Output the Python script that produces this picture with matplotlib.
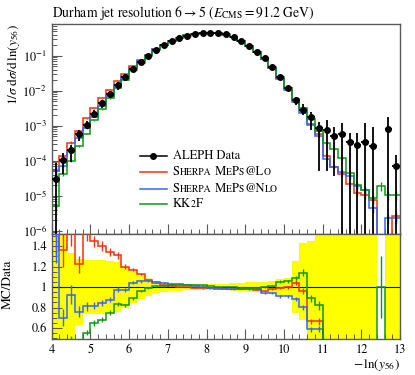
import numpy as np
import matplotlib
matplotlib.use("Agg")
import matplotlib.pyplot as plt
from matplotlib.ticker import MultipleLocator, FixedLocator, LogLocator, NullFormatter, FuncFormatter
from matplotlib.offsetbox import TextArea, HPacker, AnchoredOffsetbox

plt.rcParams["font.family"] = "STIXGeneral"
plt.rcParams["mathtext.fontset"] = "stix"

# bin edges of -ln(y56), 0.2 wide
edges = np.round(np.arange(4.0, 13.01, 0.2), 1)

# ALEPH data (0 = no entry)
aleph = np.array([
    3.0e-5, 1.03e-4, 2.1e-4, 5.8e-4, 1.07e-3, 2.2e-3, 4.4e-3, 8.1e-3, 1.42e-2, 2.5e-2,
    4.3e-2, 6.6e-2, 0.100, 0.146, 0.202, 0.263, 0.320, 0.380, 0.425, 0.454,
    0.454, 0.445, 0.410, 0.350, 0.268, 0.193, 0.128, 0.084, 0.047, 0.024,
    1.17e-2, 5.4e-3, 2.9e-3, 1.73e-3, 8.5e-4, 7.5e-4, 5.2e-4, 5.7e-4, 3.5e-4, 2.9e-4,
    3.5e-4, 2.6e-4, 0.0, 8.1e-4, 7.2e-5])
# relative errors (up / down)
aleph_rel_up = np.array([
    1.8, 0.6, 0.33, 0.27, 0.26, 0.26, 0.26, 0.25, 0.24, 0.2,
    0.16, 0.12, 0.09, 0.06, 0.05, 0.04, 0.035, 0.03, 0.03, 0.03,
    0.03, 0.03, 0.03, 0.035, 0.04, 0.045, 0.05, 0.05, 0.06, 0.08,
    0.09, 0.25, 0.43, 0.45, 0.53, 0.93, 0.79, 1.05, 0.74, 1.1,
    2.5, 2.6, 0.0, 1.15, 1.0])
aleph_rel_dn = np.array([
    1.0, 0.6, 0.55, 0.37, 0.26, 0.26, 0.26, 0.25, 0.24, 0.2,
    0.16, 0.12, 0.09, 0.06, 0.05, 0.04, 0.035, 0.03, 0.03, 0.03,
    0.03, 0.03, 0.03, 0.035, 0.04, 0.045, 0.05, 0.05, 0.06, 0.08,
    0.09, 0.25, 0.32, 0.55, 0.94, 0.93, 0.93, 1.0, 1.0, 1.0,
    1.0, 1.0, 0.0, 1.0, 1.0])

sherpa_lo = np.array([
    5.2e-5, 1.40e-4, 3.26e-4, 7.08e-4, 1.63e-3, 3.18e-3, 6.16e-3, 1.085e-2, 1.86e-2, 3.0e-2,
    5.03e-2, 7.46e-2, 0.107, 0.152, 0.206, 0.266, 0.320, 0.380, 0.423, 0.449,
    0.449, 0.438, 0.404, 0.345, 0.264, 0.190, 0.1248, 0.0811, 0.0463, 0.0238,
    1.17e-2, 5.64e-3, 2.78e-3, 1.15e-3, 5.65e-4, 1.36e-4, 6.8e-5, 4.2e-5, 2.2e-5, 1.23e-5,
    1.05e-5, 7.6e-6, 0.0, 0.0, 2.6e-6])
sherpa_nlo = np.array([
    4.95e-5, 7.2e-5, 1.94e-4, 4.41e-4, 8.67e-4, 1.80e-3, 3.70e-3, 7.10e-3, 1.383e-2, 2.435e-2,
    4.49e-2, 6.96e-2, 0.1055, 0.1533, 0.210, 0.272, 0.330, 0.388, 0.429, 0.454,
    0.452, 0.441, 0.404, 0.343, 0.263, 0.189, 0.126, 0.079, 0.0442, 0.0218,
    1.065e-2, 4.78e-3, 2.33e-3, 1.02e-3, 5.0e-4, 1.1e-4, 6.8e-5, 4.9e-5, 3.6e-5, 1.95e-5,
    1.5e-5, 4.4e-6, 0.0, 2.3e-6, 2.3e-6])
kk2f = np.array([
    5.2e-6, 4.1e-5, 1.0e-4, 2.6e-4, 5.94e-4, 1.43e-3, 2.99e-3, 6.08e-3, 1.18e-2, 2.05e-2,
    3.83e-2, 6.34e-2, 0.099, 0.1469, 0.204, 0.267, 0.326, 0.388, 0.4335, 0.461,
    0.4585, 0.447, 0.410, 0.350, 0.2667, 0.191, 0.1267, 0.084, 0.0473, 0.0253,
    1.234e-2, 5.89e-3, 3.31e-3, 1.54e-3, 6.97e-4, 3.3e-4, 2.2e-4, 1.17e-4, 4.5e-5, 2.0e-5,
    1.45e-5, 8.5e-6, 1.9e-5, 1.05e-5, 1.05e-5])
# MC statistical error (relative), shared
mc_rel = np.array([
    0.25, 0.12, 0.1, 0.07, 0.05, 0.04, 0.035, 0.03, 0.025, 0.02,
    0.015, 0.01, 0.008, 0.006, 0.005, 0.004, 0.004, 0.004, 0.004, 0.004,
    0.004, 0.004, 0.004, 0.004, 0.004, 0.005, 0.006, 0.008, 0.01, 0.012,
    0.015, 0.02, 0.03, 0.04, 0.05, 0.07, 0.09, 0.12, 0.15, 0.2,
    0.22, 0.25, 0.3, 0.3, 0.3])

# legend labels in small caps: (text, is_capital)
mc_sets = [
    (sherpa_lo, "#EE3311", [("S", 1), ("HERPA", 0), (" M", 1), ("E", 0), ("P", 1), ("S", 0), ("@L", 1), ("O", 0)]),
    (sherpa_nlo, "#3366FF", [("S", 1), ("HERPA", 0), (" M", 1), ("E", 0), ("P", 1), ("S", 0), ("@N", 1), ("LO", 0)]),
    (kk2f, "#109618", [("KK", 1), ("2", 0), ("F", 1)]),
]

centers = 0.5 * (edges[1:] + edges[:-1])
halfw = 0.5 * (edges[1:] - edges[:-1])


def label_box(parts, big=9.0, small=6.9):
    areas = [TextArea(t, textprops=dict(fontsize=big if up else small)) for t, up in parts]
    return HPacker(children=areas, align="baseline", pad=0, sep=0)


def style_axis(ax):
    for s in ax.spines.values():
        s.set_color("0.35")
        s.set_linewidth(1.0)
    ax.tick_params(which="both", direction="in", top=False, right=False,
                   color="0.35", labelsize=8.8)
    ax.tick_params(which="major", length=7, width=0.8)
    ax.tick_params(which="minor", length=3.5, width=0.7)


fig = plt.figure(figsize=(4.15, 3.75), dpi=100)
ax = fig.add_axes([0.1246, 0.3752, 0.8394, 0.56])
rax = fig.add_axes([0.1246, 0.0952, 0.8394, 0.2800], sharex=ax)

# main panel
for vals, col, _ in mc_sets:
    ax.stairs(vals, edges, baseline=None, color=col, lw=1.1, zorder=2)
    ax.errorbar(centers, vals, yerr=vals * mc_rel, fmt="none", ecolor=col, elinewidth=1.0, zorder=2)

ok = aleph > 0
lo = np.minimum(aleph * aleph_rel_dn, aleph * (1 - 1e-9))
ax.errorbar(centers[ok], aleph[ok], yerr=[lo[ok], (aleph * aleph_rel_up)[ok]],
            xerr=halfw[ok], fmt="o", color="black", ms=4, elinewidth=1.3, capsize=0, zorder=3)

ax.set_yscale("log")
ax.set_ylim(10 ** -6.1, 10 ** -0.1)
ax.set_xlim(4, 13)
ax.yaxis.set_major_locator(LogLocator(base=10, numticks=10))
ax.yaxis.set_minor_locator(LogLocator(base=10, subs=np.arange(2, 10), numticks=100))
ax.yaxis.set_minor_formatter(NullFormatter())
ax.xaxis.set_major_locator(MultipleLocator(1))
ax.xaxis.set_minor_locator(MultipleLocator(0.2))
plt.setp(ax.get_xticklabels(), visible=False)
style_axis(ax)

ax.set_title(r"Durham jet resolution $6 \rightarrow 5$ ($E_{\mathrm{CMS}} = 91.2$ GeV)",
             loc="left", fontsize=9.8, pad=5)
ax.set_ylabel(r"$1/\sigma\;\mathrm{d}\sigma/\mathrm{d}\,\ln(y_{56})$", fontsize=9.5, loc="top")
ax.yaxis.set_label_coords(-0.085, 1.0)

# legend
leg_y = [0.373, 0.295, 0.214, 0.145]
ax.plot([0.2535, 0.331], [leg_y[0]] * 2, color="black", lw=1.1, transform=ax.transAxes)
ax.plot([0.292], [leg_y[0]], "o", color="black", ms=4, transform=ax.transAxes)
box = AnchoredOffsetbox(loc="center left", child=label_box([("ALEPH Data", 1)]), pad=0, borderpad=0,
                        frameon=False, bbox_to_anchor=(0.348, leg_y[0]), bbox_transform=ax.transAxes)
ax.add_artist(box)
for (vals, col, parts), y in zip(mc_sets, leg_y[1:]):
    ax.plot([0.2535, 0.331], [y, y], color=col, lw=1.1, transform=ax.transAxes)
    box = AnchoredOffsetbox(loc="center left", child=label_box(parts), pad=0, borderpad=0,
                            frameon=False, bbox_to_anchor=(0.348, y), bbox_transform=ax.transAxes)
    ax.add_artist(box)

# ratio panel
band_ok = aleph > 0
rax.bar(centers[band_ok], (aleph_rel_up + aleph_rel_dn)[band_ok], bottom=(1 - aleph_rel_dn)[band_ok],
        width=0.2, color="#FFFF00", linewidth=0, zorder=1)
rax.axhline(1.0, color="black", lw=0.8, zorder=2)
for vals, col, _ in mc_sets:
    with np.errstate(divide="ignore", invalid="ignore"):
        # empty data bin with MC entries is drawn at 1
        ratio = np.where(aleph > 0, vals / aleph, np.where(vals > 0, 1.0, np.nan))
    rax.stairs(ratio, edges, baseline=None, color=col, lw=1.1, zorder=3)
    rax.errorbar(centers, ratio, yerr=ratio * mc_rel, fmt="none", ecolor=col, elinewidth=1.0, zorder=3)

rax.set_ylim(0.49, 1.515)
rax.yaxis.set_major_locator(MultipleLocator(0.2))
minor = [round(v, 2) for v in np.arange(0.5, 1.51, 0.05) if abs(v / 0.2 - round(v / 0.2)) > 1e-6]
rax.yaxis.set_minor_locator(FixedLocator(minor))
rax.yaxis.set_major_formatter(FuncFormatter(lambda v, p: f"{v:g}"))
style_axis(rax)
rax.set_ylabel("MC/Data", fontsize=9.5)
rax.yaxis.set_label_coords(-0.11, 0.52)
rax.set_xlabel(r"$-\,\ln(y_{56})$", fontsize=9.5, loc="right")
rax.xaxis.set_label_coords(1.0, -0.17)

fig.savefig("out.png", dpi=100)
